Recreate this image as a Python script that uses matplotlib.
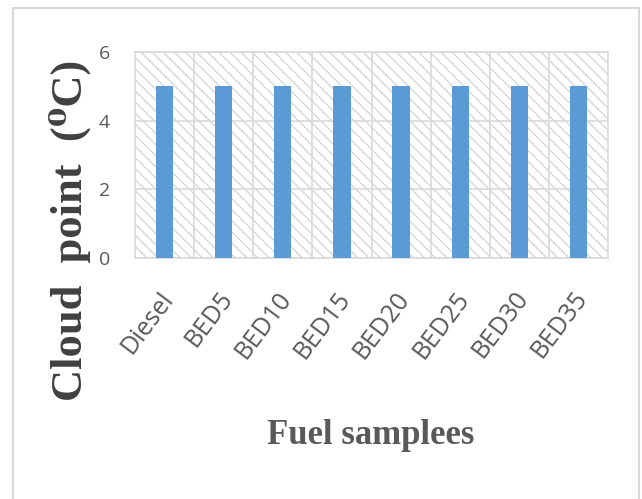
import matplotlib
matplotlib.use("Agg")
import matplotlib.pyplot as plt
import matplotlib.transforms as mtransforms
from matplotlib.patches import Rectangle
import numpy as np

# ---- data ----
categories = ["Diesel", "BED5", "BED10", "BED15", "BED20", "BED25", "BED30", "BED35"]
cloud_point = [5, 5, 5, 5, 5, 5, 5, 5]
y_ticks = [0, 2, 4, 6]

W, H = 642, 499
DPI = 100
plt.rcParams["hatch.color"] = "#cfcfcf"
plt.rcParams["hatch.linewidth"] = 0.8

fig = plt.figure(figsize=(W / DPI, H / DPI), dpi=DPI)
fig.patch.set_facecolor("white")

# outer chart frame
fig.add_artist(Rectangle((13 / W, 1 - 520 / H), (639 - 13) / W, (520 - 8) / H,
                         transform=fig.transFigure, fill=False,
                         edgecolor="#d9d9d9", linewidth=1.5))

# plot area
L, R, T, B = 135, 608, 52, 258
ax = fig.add_axes([L / W, 1 - B / H, (R - L) / W, (B - T) / H])
ax.set_facecolor("white")

x = np.arange(len(categories))
ax.set_xlim(-0.5, len(categories) - 0.5)
ax.set_ylim(0, 6)

# hatched background of the plot area
ax.add_patch(Rectangle((0, 0), 1, 1, transform=ax.transAxes, facecolor="white",
                       edgecolor="#cfcfcf", hatch="\\\\\\", linewidth=0, zorder=0))

ax.bar(x, cloud_point, width=0.29, color="#5b9bd5", zorder=3)

# gridlines
ax.set_yticks(y_ticks)
ax.set_xticks(x)
ax.set_xticks(np.arange(len(categories) - 1) + 0.5, minor=True)
ax.grid(axis="y", which="major", color="#d9d9d9", linewidth=1.2, zorder=1)
ax.grid(axis="x", which="minor", color="#d9d9d9", linewidth=1.2, zorder=1)
ax.set_axisbelow(True)
for s in ax.spines.values():
    s.set_color("#d9d9d9")
    s.set_linewidth(1.2)

ax.tick_params(axis="both", which="both", length=0)
ax.tick_params(axis="y", pad=18, labelsize=14, labelcolor="#595959")
ax.tick_params(axis="x", pad=26, labelsize=18, labelcolor="#595959")

ax.set_xticklabels(categories)
for lab in ax.get_yticklabels():
    lab.set_family(["Open Sans", "DejaVu Sans"])
offset = mtransforms.ScaledTranslation(4 / DPI, 0, fig.dpi_scale_trans)
for lab in ax.get_xticklabels():
    lab.set_family(["Open Sans", "DejaVu Sans"])
    lab.set_rotation(53)
    lab.set_ha("right")
    lab.set_va("center")
    lab.set_rotation_mode("anchor")
    lab.set_transform(lab.get_transform() + offset)

serif = ["Liberation Serif", "DejaVu Serif"]
fig.text(371 / W, 1 - 436 / H, "Fuel samplees", ha="center", va="center",
         fontsize=25, fontweight="bold", family=serif, color="#595959")
fig.text(70 / W, 1 - 230 / H, "Cloud  point  (\u2070C)", ha="center", va="center",
         rotation=90, fontsize=32, fontweight="bold", family=serif,
         color="#404040")

fig.savefig("out.png", dpi=DPI)
